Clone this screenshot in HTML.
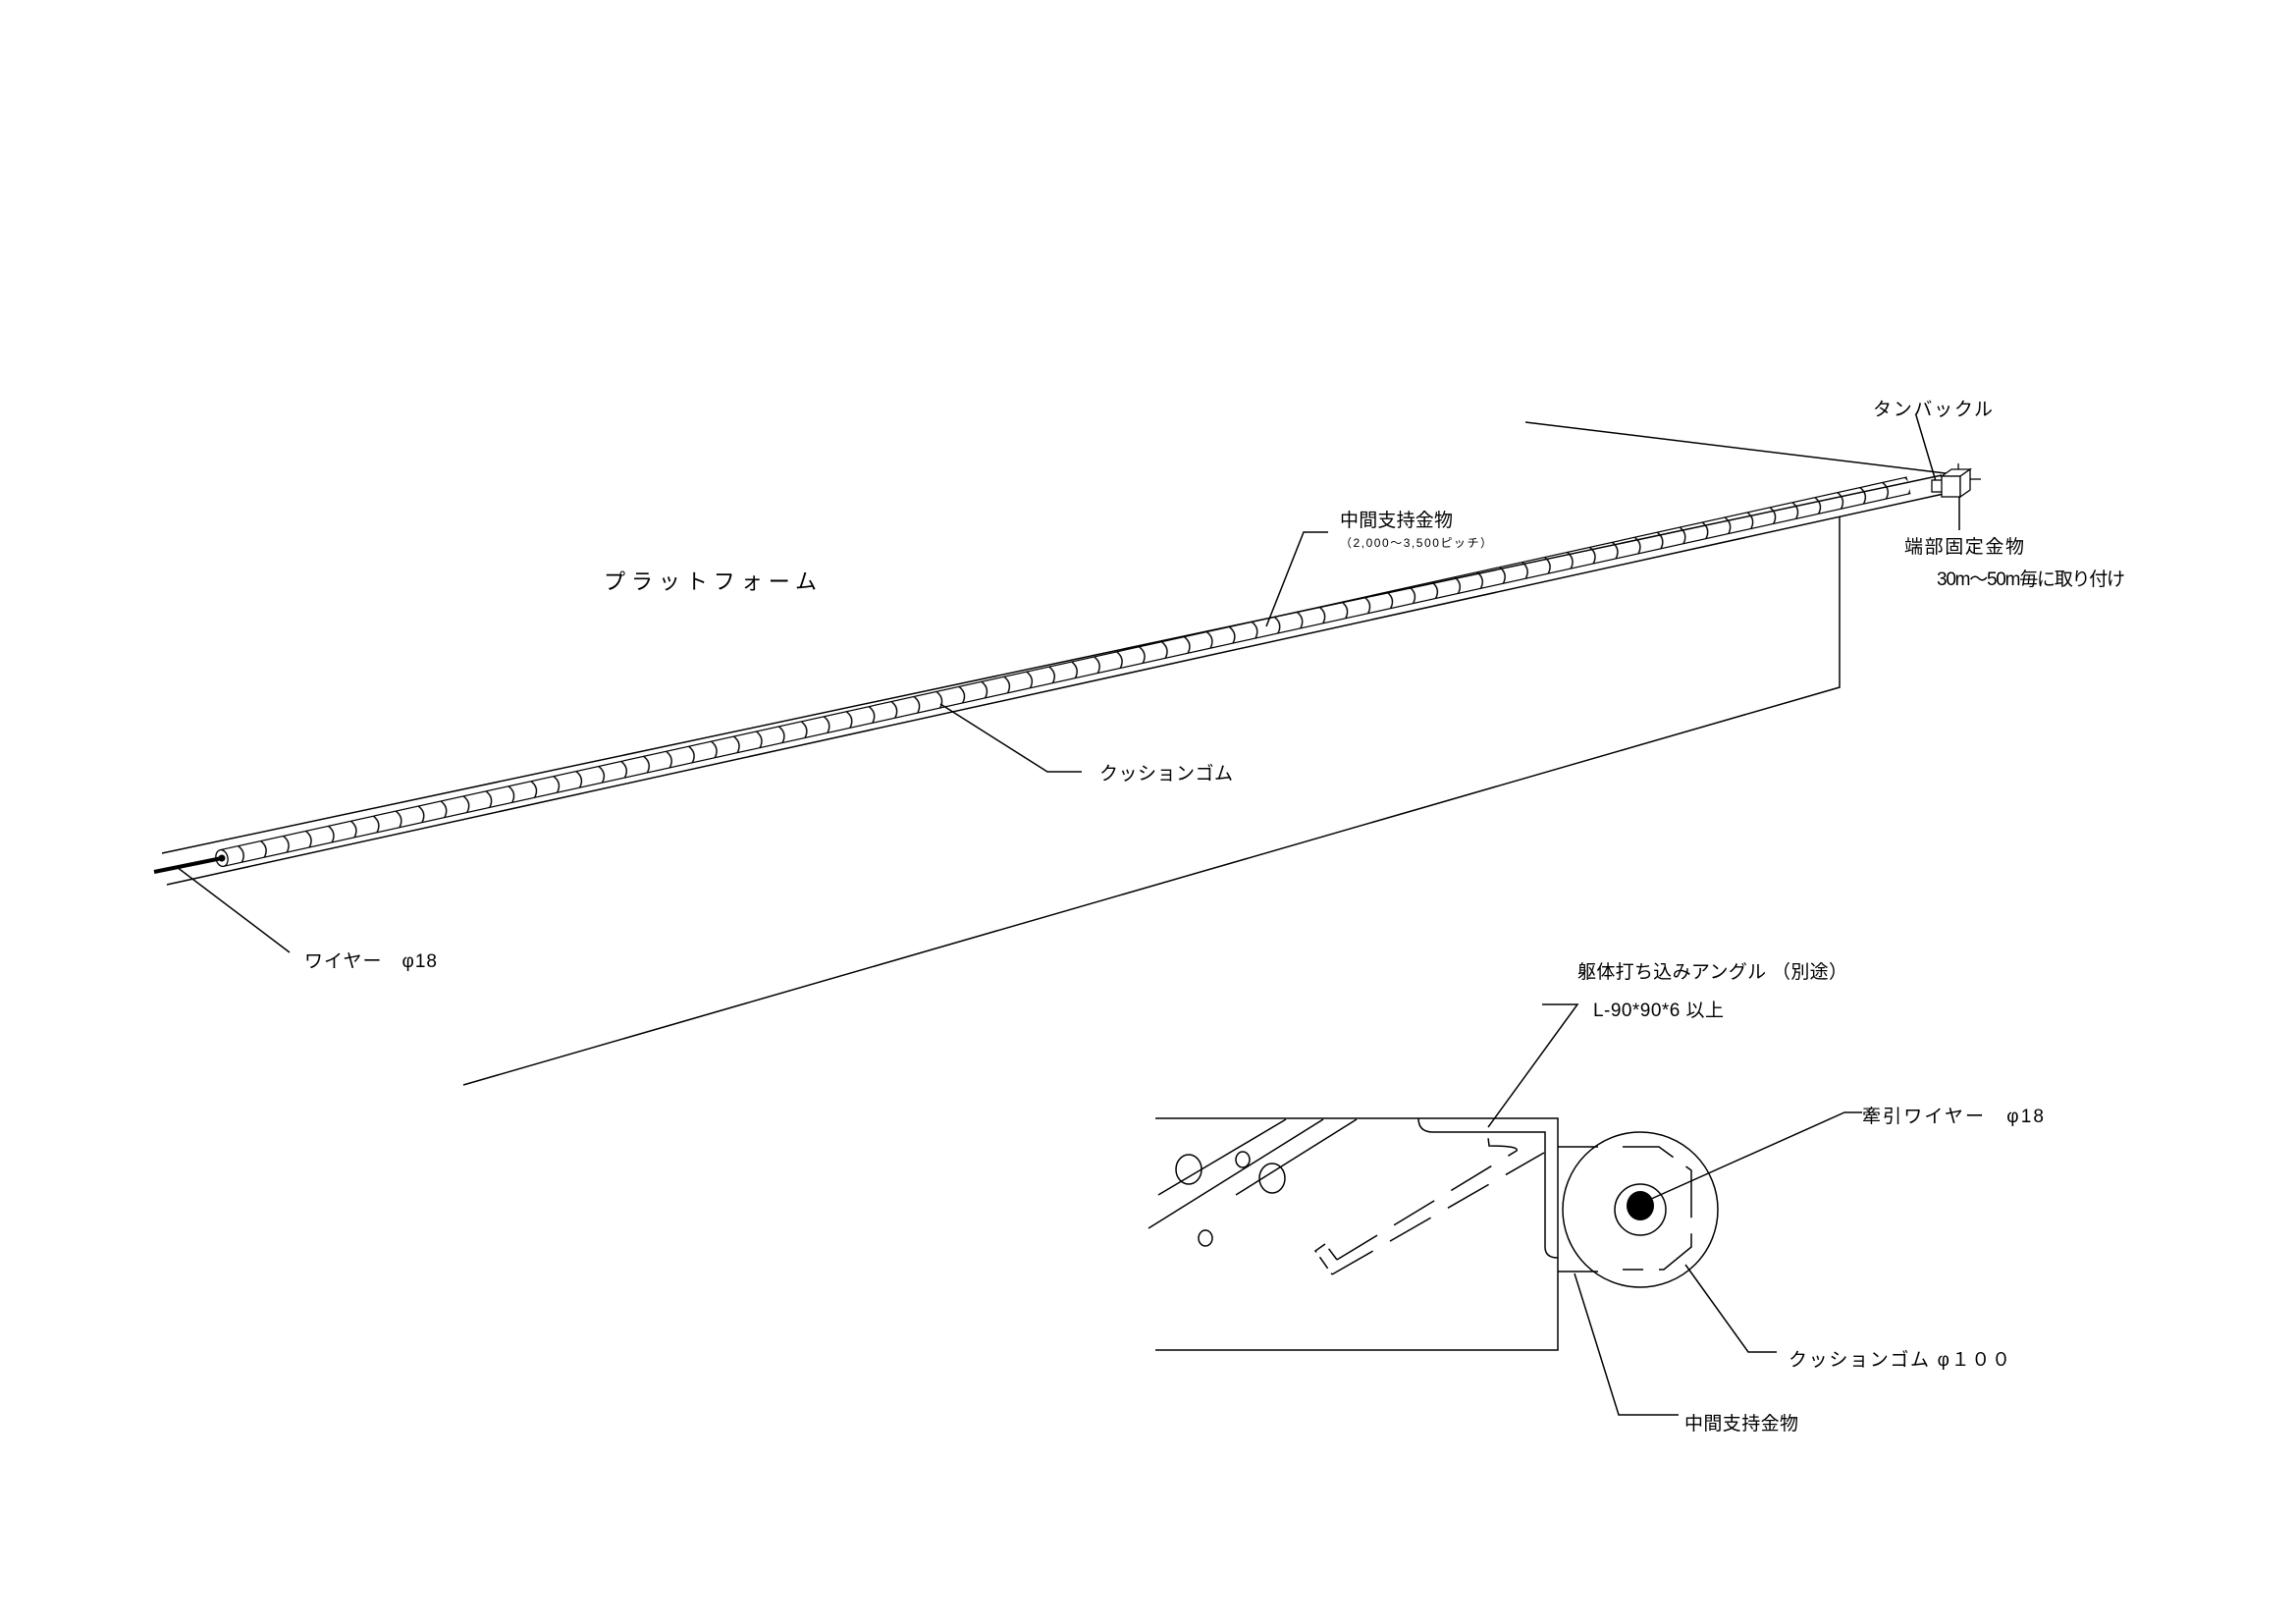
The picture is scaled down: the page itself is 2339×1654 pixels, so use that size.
<!DOCTYPE html>
<html><head><meta charset="utf-8"><style>
html,body{margin:0;padding:0;background:#fff}
svg{display:block}
text{font-family:"Liberation Sans","Noto Sans CJK JP",sans-serif;fill:#000}
</style></head><body>
<svg width="2339" height="1654" viewBox="0 0 2339 1654" xmlns="http://www.w3.org/2000/svg">
<defs>
<pattern id="rolls" patternUnits="userSpaceOnUse" x="0" y="-8.5" width="23.5" height="17">
<path d="M19,0 Q26,8.5 19,17" fill="none" stroke="#000" stroke-width="1.4"/>
</pattern>
</defs>
<g fill="none" stroke="#000" stroke-width="1.5">
<line x1="165" y1="869" x2="1978" y2="484"/>
<line x1="170" y1="901" x2="1980" y2="503"/>
<line x1="1554" y1="430" x2="1990" y2="483"/>
<polyline points="1874,527 1874,700 472,1105"/>
<line x1="1952" y1="423" x2="1972" y2="490"/>
<line x1="1996" y1="505" x2="1996" y2="540"/>
<polyline points="1353,542 1328,542 1290,638"/>
<polyline points="958,717 1067,786 1102,786"/>
<polyline points="180,883 295,970"/>
</g>
<g transform="translate(226,874) rotate(-12.46)">
<rect x="0" y="-8.5" width="1760" height="17" fill="url(#rolls)"/>
<line x1="0" y1="-8.5" x2="1760" y2="-8.5" stroke="#000" stroke-width="1.2"/>
<line x1="0" y1="8.5" x2="1760" y2="8.5" stroke="#000" stroke-width="1.2"/>
<ellipse cx="0" cy="0" rx="6" ry="8.5" fill="#fff" stroke="#000" stroke-width="1.3"/>
<circle cx="0" cy="0" r="3.5" fill="#000"/>
</g>
<line x1="157" y1="888" x2="226" y2="874" stroke="#000" stroke-width="4"/>
<g fill="#fff" stroke="#000" stroke-width="1.3">
<rect x="1968" y="489" width="12" height="12"/>
<polygon points="1978,485 1988,478 2007,478 1997,485"/>
<rect x="1978" y="485" width="19" height="21"/>
<polygon points="1997,485 2007,478 2007,499 1997,506"/>
<line x1="2007" y1="488" x2="2018" y2="488"/>
<line x1="1995" y1="478" x2="1995" y2="472"/>
</g>

<g fill="none" stroke="#000" stroke-width="1.5">
<polyline points="1177,1139 1587,1139 1587,1375 1177,1375"/>
<path d="M1445,1139 Q1445,1153 1460,1153 L1574,1153 L1574,1270 Q1574,1281 1587,1281"/>
<line x1="1587" y1="1168" x2="1628" y2="1168"/>
<line x1="1587" y1="1295" x2="1628" y2="1295"/>
<line x1="1180" y1="1217" x2="1310" y2="1140"/>
<line x1="1170" y1="1251" x2="1348" y2="1140"/>
<line x1="1259" y1="1217" x2="1382" y2="1140"/>
<ellipse cx="1211" cy="1191" rx="13" ry="15"/>
<ellipse cx="1266" cy="1181" rx="7" ry="8"/>
<ellipse cx="1296" cy="1200" rx="13" ry="15"/>
<ellipse cx="1228" cy="1261" rx="7" ry="8"/>
<g stroke-dasharray="48,20">
<path d="M1362,1283 L1545,1172 Q1548,1167 1517,1167 L1515,1150"/>
<path d="M1357,1298 L1573,1174"/>
</g>
<path d="M1362,1283 L1350,1267 L1340,1274 L1357,1298" stroke-dasharray="14,6"/>
<circle cx="1671" cy="1232" r="79"/>
<circle cx="1671" cy="1232" r="26"/>
<polyline points="1653,1168 1690,1168 1723,1192 1723,1270 1695,1293 1653,1293" stroke-dasharray="55,16"/>
<polyline points="1571,1023 1607,1023 1516,1148"/>
<polyline points="1680,1222 1879,1133 1897,1133"/>
<polyline points="1717,1288 1781,1377 1810,1377"/>
<polyline points="1604,1297 1649,1441 1710,1441"/>
</g>
<ellipse cx="1671" cy="1228" rx="14" ry="15" fill="#000"/>

<text x="615" y="600" font-size="22" textLength="217">プラットフォーム</text>
<text x="1365" y="536" font-size="19" textLength="115">中間支持金物</text>
<text x="1365" y="557" font-size="12" textLength="155">（2,000～3,500ピッチ）</text>
<text x="1120" y="794" font-size="19" textLength="136">クッションゴム</text>
<text x="310" y="985" font-size="19" textLength="135">ワイヤー　φ18</text>
<text x="1908" y="423" font-size="19" textLength="122">タンバックル</text>
<text x="1940" y="563" font-size="19" textLength="122">端部固定金物</text>
<text x="1973" y="596" font-size="19" textLength="192">30m～50m毎に取り付け</text>
<text x="1607" y="996" font-size="19" textLength="275">躯体打ち込みアングル （別途）</text>
<text x="1623" y="1035" font-size="19" textLength="133">L-90*90*6 以上</text>
<text x="1897" y="1143" font-size="19" textLength="185">牽引ワイヤー　φ18</text>
<text x="1822" y="1391" font-size="19" textLength="226">クッションゴム φ１００</text>
<text x="1716" y="1456" font-size="19" textLength="116">中間支持金物</text>
</svg>
</body></html>
